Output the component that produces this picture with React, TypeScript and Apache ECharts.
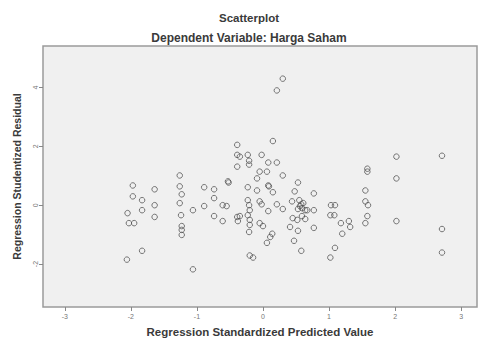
import React, { useEffect, useRef } from "react";
import * as echarts from "echarts";

// Regression Standardized Predicted Value (x) and Regression Studentized Residual (y)
const predicted: number[] = [
  -2.06, -1.97, -1.97, -1.83, -1.64, -1.83, -1.64, -2.05, -2.03, -1.95,
  -1.64, -1.83, -1.26, -1.26, -1.23, -1.26, -1.06, -1.24, -1.23, -1.23,
  -1.23, -1.06, -0.89, -0.74, -0.89, -0.74, -0.74, -0.61, -0.61, -0.55,
  -0.53, -0.52, -0.39, -0.39, -0.35, -0.39, -0.23, -0.21, -0.21, -0.02,
  -0.39, -0.35, -0.38, -0.23, -0.23, -0.21, -0.2, -0.23, -0.2, -0.2,
  -0.21, -0.2, -0.15, -0.09, -0.09, -0.05, 0.06, -0.05, -0.02, -0.05,
  0.0, 0.08, 0.09, 0.15, 0.08, 0.14, 0.11, 0.06, 0.08, 0.21,
  0.3, 0.21, 0.3, 0.3, 0.21, 0.15, 0.53, 0.48, 0.77, 0.44,
  0.55, 0.58, 0.59, 0.64, 0.67, 0.56, 0.61, 0.53, 0.77, 0.45,
  0.52, 0.59, 0.64, 0.41, 0.77, 0.53, 0.47, 0.58, 1.03, 1.09,
  1.02, 1.08, 1.18, 1.3, 1.32, 1.2, 1.09, 1.02, 1.58, 1.58,
  1.55, 1.55, 1.59, 1.58, 1.55, 2.02, 2.02, 2.02, 2.71, 2.71,
  2.71,
];
const residual: number[] = [
  -1.85, 0.67, 0.3, 0.17, 0.54, -0.17, 0.0, -0.27, -0.61, -0.61,
  -0.4, -1.55, 1.01, 0.64, 0.37, 0.07, -0.17, -0.34, -0.71, -0.84,
  -1.01, -2.18, 0.61, 0.54, -0.03, 0.24, -0.37, -0.54, 0.0, -0.03,
  0.81, 0.77, 2.05, 1.71, 1.65, 1.31, 1.71, 1.51, 1.38, 1.71,
  -0.4, -0.37, -0.54, 0.61, 0.17, 0.0, -0.17, -0.34, -0.5, -0.67,
  -0.91, -1.71, -1.78, 0.91, 0.5, 1.14, 1.14, 0.13, 0.03, -0.61,
  -0.71, 0.67, 0.64, 0.44, -0.2, -0.97, -1.08, -1.28, 1.45, 1.45,
  1.01, 0.03, -0.13, 4.3, 3.9, 2.18, 0.77, 0.47, 0.4, 0.13,
  0.17, 0.03, -0.1, -0.17, -0.17, -0.03, 0.07, -0.13, -0.17, -0.44,
  -0.5, -0.37, -0.47, -0.74, -0.77, -0.87, -1.21, -1.55, 0.0, 0.0,
  -0.34, -0.34, -0.61, -0.54, -0.74, -0.97, -1.45, -1.78, 1.14, 1.24,
  0.5, 0.13, 0.0, -0.37, -0.61, 1.65, 0.91, -0.54, 1.68, -0.81,
  -1.61,
];

const xTicks: number[] = [-3, -2, -1, 0, 1, 2, 3];
const yTicks: number[] = [-2, 0, 2, 4];

const titleText = "Scatterplot";
const subtitleText = "Dependent Variable: Harga Saham";
const xName = "Regression Standardized Predicted Value";
const yName = "Regression Studentized Residual";

export default function App() {
  const ref = useRef<HTMLDivElement>(null);
  useEffect(() => {
    if (!ref.current) return;
    const chart = echarts.init(ref.current, undefined, { renderer: "svg" });
    const data = predicted.map((x, i) => [x, residual[i]]);
    const font = "Liberation Sans, Arial, sans-serif";
    chart.setOption({
      animation: false,
      backgroundColor: "#ffffff",
      title: [
        {
          text: titleText,
          left: 244,
          top: 7,
          textAlign: "center",
          textStyle: { fontSize: 11.5, fontWeight: "bold", color: "#3a3a3a", fontFamily: font },
        },
        {
          text: subtitleText,
          left: 244,
          top: 27,
          textAlign: "center",
          textStyle: { fontSize: 12, fontWeight: "bold", color: "#3a3a3a", fontFamily: font },
        },
      ],
      grid: {
        left: 43,
        right: 4,
        top: 46,
        bottom: 33,
        show: true,
        backgroundColor: "#f0f0f0",
        borderColor: "#9a9a9a",
        borderWidth: 1.5,
      },
      xAxis: {
        type: "value",
        min: -3.33,
        max: 3.24,
        name: xName,
        nameLocation: "middle",
        nameGap: 19,
        nameTextStyle: { fontSize: 11.5, fontWeight: "bold", color: "#3a3a3a", fontFamily: font },
        axisLine: { show: false, onZero: false },
        splitLine: { show: false },
        axisTick: {
          show: true,
          length: 4,
          customValues: xTicks,
          lineStyle: { color: "#888" },
        },
        axisLabel: {
          customValues: xTicks,
          fontSize: 7,
          color: "#777",
          margin: 6,
          fontFamily: font,
        },
      },
      yAxis: {
        type: "value",
        min: -3.46,
        max: 5.41,
        name: yName,
        nameLocation: "middle",
        nameGap: 21,
        nameRotate: 90,
        nameTextStyle: { fontSize: 10.5, fontWeight: "bold", color: "#3a3a3a", fontFamily: font },
        axisLine: { show: false, onZero: false },
        splitLine: { show: false },
        axisTick: {
          show: true,
          length: 4,
          customValues: yTicks,
          lineStyle: { color: "#888" },
        },
        axisLabel: {
          customValues: yTicks,
          fontSize: 7,
          color: "#777",
          rotate: 90,
          margin: 4,
          fontFamily: font,
        },
      },
      series: [
        {
          type: "scatter",
          data,
          symbol: "circle",
          symbolSize: 5.5,
          itemStyle: {
            color: "rgba(0,0,0,0)",
            borderColor: "#555",
            borderWidth: 1,
          },
        },
      ],
    });
    return () => chart.dispose();
  }, []);
  return <div ref={ref} style={{ width: 481, height: 343, position: "absolute", left: 0, top: 0 }} />;
}
